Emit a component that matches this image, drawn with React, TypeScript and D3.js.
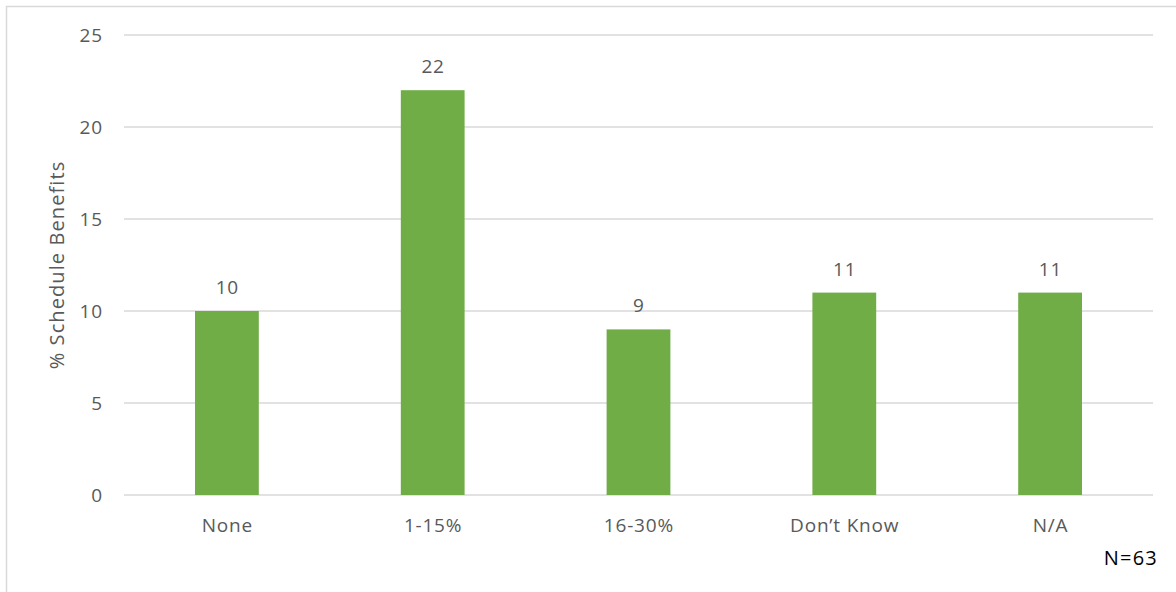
import React from "react";
import * as d3 from "d3";

const categories = ["None", "1-15%", "16-30%", "Don\u2019t Know", "N/A"];
const values = [10, 22, 9, 11, 11];
const yTicks = [0, 5, 10, 15, 20, 25];
const yTitle = "% Schedule Benefits";
const note = "N=63";

export default function App() {
  const W = 1176, H = 592;
  const left = 124, right = 1153, top = 35, bottom = 495;
  const x = d3.scaleBand<string>().domain(categories).range([left, right]).paddingInner(0.69).paddingOuter(0.345);
  const y = d3.scaleLinear().domain([0, 25]).range([bottom, top]);
  const font = "'Open Sans', 'Liberation Sans', sans-serif";
  const grey = "#595959";
  const ls = 0.8;
  return (
    <svg width={W} height={H} style={{ position: "absolute", left: 0, top: 0, background: "#fff" }} fontFamily={font}>
      <rect x={0} y={0} width={W} height={H} fill="#fff" />
      <rect x={6.5} y={6.5} width={1300} height={700} fill="none" stroke="#d9d9d9" strokeWidth={1.5} />
      {yTicks.map(t => (
        <g key={t}>
          <line x1={left} x2={right} y1={y(t)} y2={y(t)} stroke="#d9d9d9" strokeWidth={1.5} />
          <text x={102 + ls} y={y(t)} dy="0.35em" textAnchor="end" fontSize={19} letterSpacing={ls} fill={grey}>{t}</text>
        </g>
      ))}
      {categories.map((c, i) => (
        <g key={c}>
          <rect x={x(c)!} y={y(values[i])} width={x.bandwidth()} height={bottom - y(values[i])} fill="#70AD47" />
          <text x={x(c)! + x.bandwidth() / 2 + ls / 2} y={y(values[i]) - 17} textAnchor="middle" fontSize={19} letterSpacing={ls} fill={grey}>{values[i]}</text>
          <text x={x(c)! + x.bandwidth() / 2 + ls / 2} y={532} textAnchor="middle" fontSize={19} letterSpacing={ls} fill={grey}>{c}</text>
        </g>
      ))}
      <text transform={`translate(64, 265) rotate(-90)`} textAnchor="middle" fontSize={20} letterSpacing={1.1} fill={grey}>{yTitle}</text>
      <text x={1158} y={565} textAnchor="end" fontSize={20} letterSpacing={1.2} fill="#000">{note}</text>
    </svg>
  );
}
